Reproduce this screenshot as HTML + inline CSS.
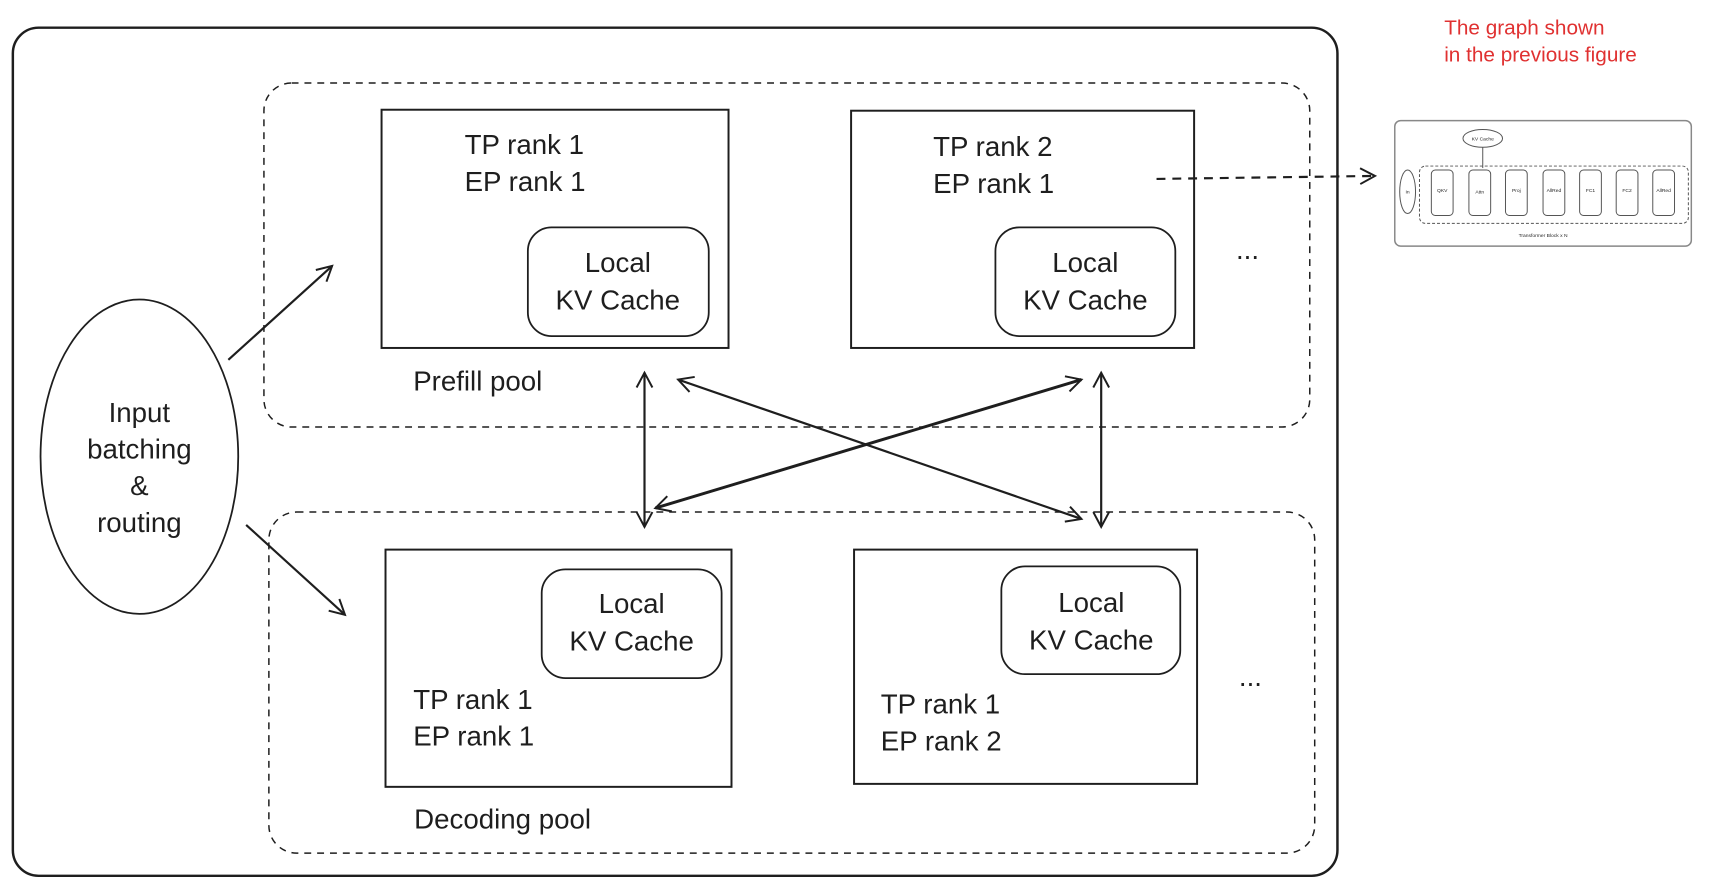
<!DOCTYPE html>
<html><head><meta charset="utf-8"><style>
html,body{margin:0;padding:0;background:#fff;}
svg{display:block;}
text{font-family:"Liberation Sans",sans-serif;fill:#1e1e1e;}
</style></head><body>
<svg width="1722" height="890" viewBox="0 0 1722 890" xmlns="http://www.w3.org/2000/svg">
<defs>
<marker id="ah2" markerWidth="20" markerHeight="20" refX="17" refY="10" orient="auto-start-reverse" markerUnits="userSpaceOnUse">
<path d="M2,2 L17,10 L2,18" fill="none" stroke="#1e1e1e" stroke-width="2"/>
</marker>
</defs>
<g transform="scale(0.9885)">
<rect x="13" y="28" width="1340" height="858" rx="26" fill="none" stroke="#1e1e1e" stroke-width="2.5"/>
<rect x="267" y="84" width="1058" height="348" rx="28" fill="none" stroke="#1e1e1e" stroke-width="1.5" stroke-dasharray="7 6"/>
<rect x="272" y="518" width="1058" height="345" rx="28" fill="none" stroke="#1e1e1e" stroke-width="1.5" stroke-dasharray="7 6"/>

<rect x="386" y="111" width="351" height="241" fill="none" stroke="#1e1e1e" stroke-width="2"/>
<rect x="534" y="230" width="183" height="110" rx="24" fill="none" stroke="#1e1e1e" stroke-width="1.8"/>
<rect x="861" y="112" width="347" height="240" fill="none" stroke="#1e1e1e" stroke-width="2"/>
<rect x="1007" y="230" width="182" height="110" rx="24" fill="none" stroke="#1e1e1e" stroke-width="1.8"/>
<rect x="390" y="556" width="350" height="240" fill="none" stroke="#1e1e1e" stroke-width="2"/>
<rect x="548" y="576" width="182" height="110" rx="24" fill="none" stroke="#1e1e1e" stroke-width="1.8"/>
<rect x="864" y="556" width="347" height="237" fill="none" stroke="#1e1e1e" stroke-width="2"/>
<rect x="1013" y="573" width="181" height="109" rx="24" fill="none" stroke="#1e1e1e" stroke-width="1.8"/>

<ellipse cx="141" cy="462" rx="100" ry="159" fill="none" stroke="#1e1e1e" stroke-width="1.8"/>

<g font-size="28">
<text x="470" y="156">TP rank 1</text>
<text x="470" y="193">EP rank 1</text>
<text x="944" y="158">TP rank 2</text>
<text x="944" y="195">EP rank 1</text>
<text x="625" y="275" text-anchor="middle">Local</text>
<text x="625" y="313" text-anchor="middle">KV Cache</text>
<text x="1098" y="275" text-anchor="middle">Local</text>
<text x="1098" y="313" text-anchor="middle">KV Cache</text>
<text x="639" y="620" text-anchor="middle">Local</text>
<text x="639" y="658" text-anchor="middle">KV Cache</text>
<text x="1104" y="619" text-anchor="middle">Local</text>
<text x="1104" y="657" text-anchor="middle">KV Cache</text>
<text x="418" y="717">TP rank 1</text>
<text x="418" y="754">EP rank 1</text>
<text x="891" y="722">TP rank 1</text>
<text x="891" y="759">EP rank 2</text>
<text x="418" y="395">Prefill pool</text>
<text x="419" y="838">Decoding pool</text>
<text x="141" y="427" text-anchor="middle">Input</text>
<text x="141" y="464" text-anchor="middle">batching</text>
<text x="141" y="501" text-anchor="middle">&amp;</text>
<text x="141" y="538" text-anchor="middle">routing</text>
<text x="1262" y="262" text-anchor="middle">...</text>
<text x="1265" y="694" text-anchor="middle">...</text>
</g>

<g stroke="#1e1e1e" fill="none" stroke-width="2.2">
<line x1="231" y1="364" x2="336" y2="269" marker-end="url(#ah2)"/>
<line x1="249" y1="531" x2="349" y2="622" marker-end="url(#ah2)"/>
<line x1="652" y1="377" x2="652" y2="533" marker-start="url(#ah2)" marker-end="url(#ah2)"/>
<line x1="1114" y1="377" x2="1114" y2="533" marker-start="url(#ah2)" marker-end="url(#ah2)"/>
<line x1="686" y1="384" x2="1094" y2="525" marker-start="url(#ah2)" marker-end="url(#ah2)"/>
<line x1="1094" y1="384" x2="663" y2="514" stroke-width="3" marker-start="url(#ah2)" marker-end="url(#ah2)"/>
<line x1="1170" y1="181" x2="1391" y2="178" stroke-dasharray="9 7" marker-end="url(#ah2)"/>
</g>

<text x="1461" y="35" font-size="21" style="fill:#e03131">The graph shown</text>
<text x="1461" y="62" font-size="21" style="fill:#e03131">in the previous figure</text>

<g stroke="#555" fill="none" stroke-width="1">
<rect x="1411" y="122" width="300" height="127" rx="6" stroke="#888" stroke-width="1.5"/>
<ellipse cx="1500" cy="140" rx="20" ry="9"/>
<line x1="1500" y1="149" x2="1500" y2="170"/>
<rect x="1436" y="168" width="272" height="58" rx="6" stroke-dasharray="3 2"/>
<ellipse cx="1424" cy="194" rx="8" ry="22"/>
<rect x="1448" y="172" width="22" height="46" rx="4"/>
<rect x="1486" y="172" width="22" height="46" rx="4"/>
<rect x="1523" y="172" width="22" height="46" rx="4"/>
<rect x="1561" y="172" width="22" height="46" rx="4"/>
<rect x="1598" y="172" width="22" height="46" rx="4"/>
<rect x="1635" y="172" width="22" height="46" rx="4"/>
<rect x="1672" y="172" width="22" height="46" rx="4"/>
</g>
<g font-size="5" style="fill:#444" text-anchor="middle">
<text x="1500" y="142">KV Cache</text>
<text x="1424" y="196">In</text>
<text x="1459" y="194">QKV</text>
<text x="1497" y="196">Attn</text>
<text x="1534" y="194">Proj</text>
<text x="1572" y="194">AllRed</text>
<text x="1609" y="194">FC1</text>
<text x="1646" y="194">FC2</text>
<text x="1683" y="194">AllRed</text>
<text x="1561" y="240">Transformer Block x N</text>
</g>
</g>
</svg>
</body></html>
